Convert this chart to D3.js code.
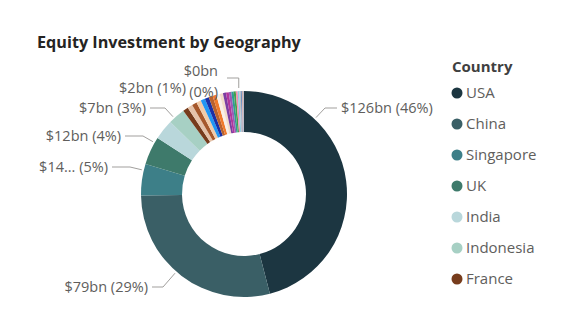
<!DOCTYPE html>
<html>
<head>
<meta charset="utf-8">
<script src="https://cdn.jsdelivr.net/npm/d3@7"></script>
<style>
  html, body { margin: 0; padding: 0; background: #fff; }
  svg { display: block; font-family: "Open Sans", "Noto Sans", sans-serif; }
</style>
</head>
<body>
<svg id="chart" width="572" height="326"></svg>
<script>
// ---------- data ----------
const chartTitle = "Equity Investment by Geography";
const legendTitle = "Country";
const countries = ["USA", "China", "Singapore", "UK", "India", "Indonesia", "France",
  "Germany", "Japan", "South Korea", "Australia", "Canada", "Israel", "Netherlands",
  "Switzerland", "Sweden", "UAE", "Vietnam", "Malaysia", "Thailand", "Philippines",
  "Hong Kong", "Spain", "Italy", "Brazil", "Nigeria", "Mexico", "Chile"];
const values = [126, 79, 13.6, 12.1, 8.7, 7.3, 2.3,
  2.2, 2.1, 2.0, 1.9, 1.8, 1.7, 1.6,
  1.5, 1.4, 1.3, 1.2, 1.1, 1.0, 0.9,
  0.8, 0.7, 0.6, 0.5, 0.4, 0.3, 0.2];
const colors = ["#1c3641", "#3a5f66", "#3d7f88", "#3e7a6b", "#b9d7db", "#a7d0c4", "#773c1c",
  "#e5c3aa", "#a6582b", "#f1cba8", "#2196f3", "#1b2fa5", "#b9622e", "#f07a2b",
  "#f8efe8", "#f2dcc9", "#7b3da1", "#b1369b", "#9b5bb7", "#2f9d93", "#46a04a",
  "#f28fb1", "#8ec9e4", "#c0c0c0", "#6c8fc0", "#d8a6a6", "#5f9ea0", "#e0b0d0"];
const labeledCountries = ["USA", "China", "Singapore", "UK", "Indonesia", "France", "Chile"];
const legendCount = 7;

// ---------- layout ----------
const W = 572, H = 326;
const cx = 244, cy = 194, rOuter = 103, rInner = 62;
const svg = d3.select("#chart");
svg.append("rect").attr("width", W).attr("height", H).attr("fill", "#fff");

svg.append("text")
  .attr("x", 37).attr("y", 48)
  .attr("font-size", 16.2).attr("font-weight", 700)
  .attr("fill", "#252423")
  .text(chartTitle);

const data = countries.map((c, i) => ({ country: c, value: values[i], color: colors[i] }));
const total = d3.sum(values);

const pie = d3.pie().value(d => d.value).sort(null);
const arcs = pie(data);
const arcGen = d3.arc().innerRadius(rInner).outerRadius(rOuter);

const g = svg.append("g").attr("transform", `translate(${cx},${cy})`);
g.selectAll("path.slice").data(arcs).join("path")
  .attr("class", "slice")
  .attr("d", arcGen)
  .attr("fill", d => d.data.color);

// ---------- data labels ----------
const labelFont = 14.5;
const labelColor = "#605e5c";
const lineColor = "#a19f9d";
// label placement (elbow point of leader line, side, horizontal run)
const labelLayout = {
  "USA":       { side: "right", y: 108, ex: 325, run: 12 },
  "China":     { side: "left",  y: 287, ex: 163, run: 11 },
  "Singapore": { side: "left",  y: 167, ex: 130, run: 18 },
  "UK":        { side: "left",  y: 136, ex: 143, run: 18 },
  "Indonesia": { side: "left",  y: 108, ex: 165, run: 15 },
  "France":    { side: "left",  y: 88,  ex: 186, run: 0, noLine: true },
  "Chile":     { side: "left",  y: 71,  ex: 227, run: 0, wrap: true }
};
const minX = 38;

function fmtValue(v) { return "$" + Math.round(v) + "bn"; }
function fmtPct(v) { return "(" + Math.round(v / total * 100) + "%)"; }

const measurer = svg.append("text").attr("font-size", labelFont).attr("visibility", "hidden");
function textW(s) { measurer.text(s); return measurer.node().getComputedTextLength(); }

const labelsG = svg.append("g");
arcs.forEach(a => {
  const c = a.data.country;
  if (!labeledCountries.includes(c)) return;
  const L = labelLayout[c];
  if (!L) return;
  const dir = L.side === "right" ? 1 : -1;
  const valStr = fmtValue(a.data.value), pctStr = fmtPct(a.data.value);

  if (L.wrap) {
    // two-line label with a hooked leader line
    const mid = (a.startAngle + a.endAngle) / 2;
    const axp = cx + Math.sin(mid) * rOuter;
    const textEnd = L.ex - 9;
    labelsG.append("text").attr("x", textEnd).attr("y", L.y).attr("dy", "0.35em")
      .attr("text-anchor", "end").attr("font-size", labelFont).attr("fill", labelColor).text(valStr);
    labelsG.append("text").attr("x", textEnd).attr("y", L.y + 21).attr("dy", "0.35em")
      .attr("text-anchor", "end").attr("font-size", labelFont).attr("fill", labelColor).text(pctStr);
    const ly = L.y + 7;
    const ax = axp - 5;
    labelsG.append("path")
      .attr("d", `M${L.ex},${ly} L${ax},${ly} L${ax},${cy - rOuter - 3}`)
      .attr("fill", "none").attr("stroke", lineColor).attr("stroke-width", 1);
    return;
  }

  const textX = L.ex + dir * (L.run + (L.noLine ? 0 : 4));
  let label = valStr + " " + pctStr;
  if (dir < 0 && textX - textW(label) < minX) {
    let v = valStr;
    while (v.length > 1 && textX - textW(v + "... " + pctStr) < minX) v = v.slice(0, -1);
    label = v + "... " + pctStr;
  }
  labelsG.append("text")
    .attr("x", textX).attr("y", L.y).attr("dy", "0.35em")
    .attr("text-anchor", dir > 0 ? "start" : "end")
    .attr("font-size", labelFont).attr("fill", labelColor)
    .text(label);

  if (!L.noLine) {
    // anchor on the arc, in the direction of the elbow, kept inside the slice
    let ang = Math.atan2(L.ex - cx, -(L.y - cy));
    if (ang < 0) ang += 2 * Math.PI;
    const pad = Math.min(0.02, (a.endAngle - a.startAngle) / 4);
    ang = Math.max(a.startAngle + pad, Math.min(a.endAngle - pad, ang));
    const r = rOuter + 2;
    const ax = cx + Math.sin(ang) * r, ay = cy - Math.cos(ang) * r;
    labelsG.append("path")
      .attr("d", `M${ax},${ay} L${L.ex},${L.y} L${L.ex + dir * L.run},${L.y}`)
      .attr("fill", "none").attr("stroke", lineColor).attr("stroke-width", 1);
  }
});

// ---------- legend ----------
svg.append("text")
  .attr("x", 452).attr("y", 72)
  .attr("font-size", 15).attr("font-weight", 700)
  .attr("fill", "#404040")
  .text(legendTitle);

const legendItems = data.slice(0, legendCount);
const ly = d3.scalePoint().domain(legendItems.map(d => d.country)).range([93, 93 + 31 * (legendCount - 1)]);
const leg = svg.append("g").selectAll("g").data(legendItems).join("g")
  .attr("transform", d => `translate(457,${ly(d.country)})`);
leg.append("circle").attr("r", 5.5).attr("fill", d => d.color);
leg.append("text").attr("x", 9).attr("dy", "0.35em")
  .attr("font-size", 15).attr("fill", "#605e5c")
  .text(d => d.country);
</script>
</body>
</html>
